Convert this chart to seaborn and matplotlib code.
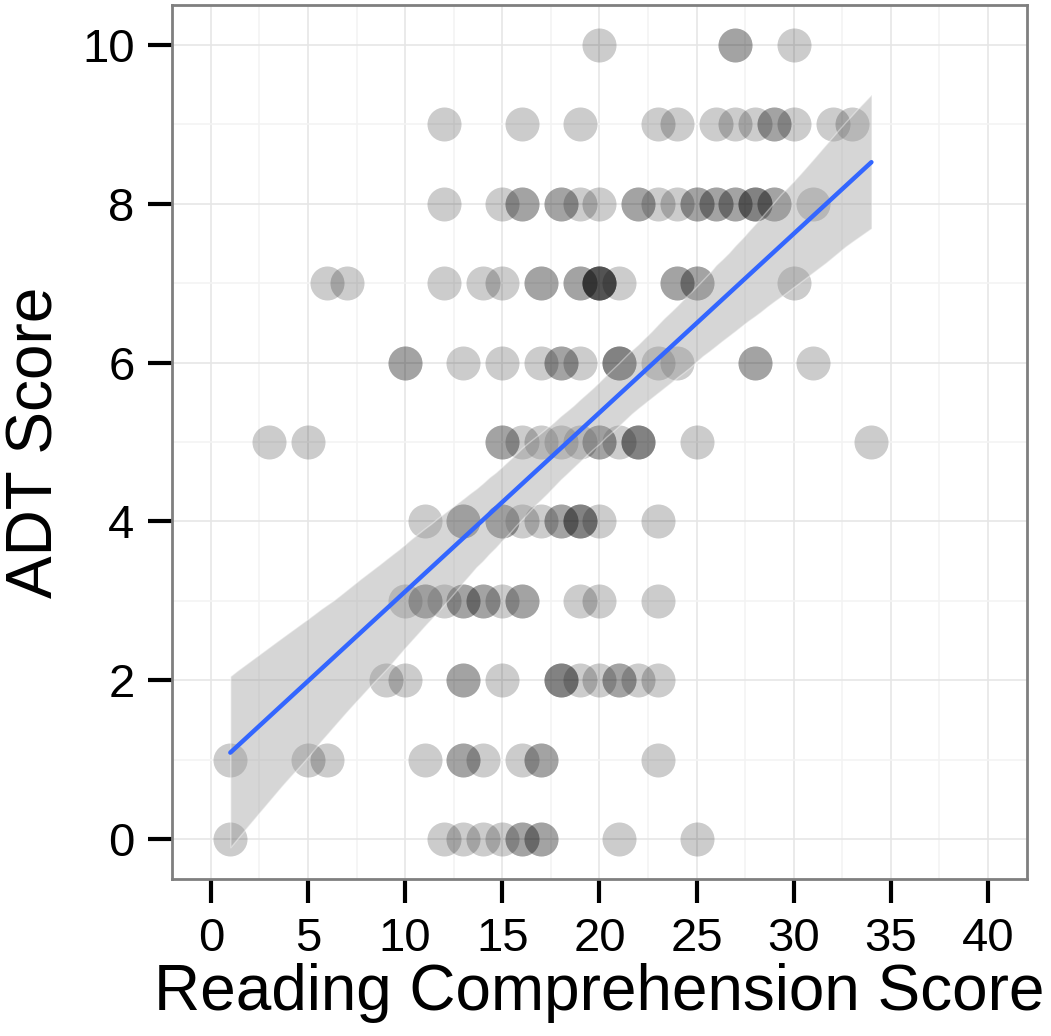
import numpy as np
import pandas as pd
import matplotlib
matplotlib.use("Agg")
import matplotlib.pyplot as plt
import seaborn as sns

# reading comprehension scores of the children at each ADT score
rc_adt10 = [20, 27, 27, 30]
rc_adt9 = [12, 16, 19, 23, 24, 26, 27, 28, 29, 29, 30, 32, 33]
rc_adt8 = [12, 15, 16, 16, 18, 18, 19, 20, 22, 22, 23, 24, 25, 25, 26, 26,
           27, 27, 28, 28, 28, 29, 29, 31]
rc_adt7 = [6, 7, 12, 14, 15, 17, 17, 19, 19, 20, 20, 20, 20, 20, 21, 24, 24,
           25, 25, 30]
rc_adt6 = [10, 10, 13, 15, 17, 18, 18, 19, 21, 21, 21, 23, 24, 28, 28, 31]
rc_adt5 = [3, 5, 15, 15, 16, 17, 18, 19, 20, 20, 21, 22, 22, 22, 25, 34]
rc_adt4 = [11, 13, 13, 15, 15, 16, 17, 18, 18, 19, 19, 19, 20, 23]
rc_adt3 = [10, 11, 11, 12, 13, 13, 14, 14, 15, 16, 16, 19, 20, 23]
rc_adt2 = [9, 10, 13, 13, 15, 18, 18, 18, 19, 20, 21, 21, 22, 23]
rc_adt1 = [1, 5, 6, 11, 13, 13, 14, 16, 17, 17, 23]
rc_adt0 = [1, 12, 13, 14, 15, 16, 16, 17, 17, 21, 25]

adt_levels = [10, 9, 8, 7, 6, 5, 4, 3, 2, 1, 0]
rc_lists = [rc_adt10, rc_adt9, rc_adt8, rc_adt7, rc_adt6, rc_adt5,
            rc_adt4, rc_adt3, rc_adt2, rc_adt1, rc_adt0]

df = pd.DataFrame({
    "rc": [v for lst in rc_lists for v in lst],
    "adt": [lvl for lvl, lst in zip(adt_levels, rc_lists) for _ in lst],
})

x_ticks = [0, 5, 10, 15, 20, 25, 30, 35, 40]
y_ticks = [0, 2, 4, 6, 8, 10]

sns.set_style("white")
plt.rcParams['font.family'] = ['Liberation Sans', 'DejaVu Sans']
plt.rcParams['text.color'] = 'black'
plt.rcParams['axes.labelcolor'] = 'black'
plt.rcParams['xtick.color'] = 'black'
plt.rcParams['ytick.color'] = 'black'

fig = plt.figure(figsize=(10.51, 10.36), dpi=100)
ax = fig.add_axes([0.1637, 0.1515, 0.977 - 0.1637, 0.9952 - 0.1515])

sns.scatterplot(data=df, x="rc", y="adt", color="black", alpha=0.2,
                s=600, linewidth=0, ax=ax, zorder=2)
sns.regplot(data=df, x="rc", y="adt", scatter=False, ci=95, ax=ax,
            line_kws={"color": "#3366FF", "lw": 3.2, "zorder": 4})
# ggplot style grey confidence band
band = ax.collections[-1]
band.set_facecolor("#999999")
band.set_alpha(0.4)
band.set_zorder(3)

ax.set_xlim(-2, 42)
ax.set_ylim(-0.5, 10.5)
ax.set_xticks(x_ticks)
ax.set_yticks(y_ticks)
ax.set_xticks(np.arange(2.5, 42, 5), minor=True)
ax.set_yticks(np.arange(1, 10, 2), minor=True)
ax.grid(which="major", color="#e6e6e6", lw=1.2, zorder=0)
ax.grid(which="minor", color="#f3f3f3", lw=1.2, zorder=0)
ax.set_axisbelow(True)

for sp in ax.spines.values():
    sp.set_color("#7f7f7f")
    sp.set_linewidth(2)

ax.tick_params(which="major", direction="out", length=17, width=3,
               color="black", labelcolor="black", labelsize=34, pad=10,
               left=True, bottom=True)
ax.tick_params(which="minor", length=0)

ax.set_xlabel("Reading Comprehension Score", fontsize=46, labelpad=2)
ax.set_ylabel("ADT Score", fontsize=46, labelpad=12)

fig.savefig("out.png", dpi=100)
